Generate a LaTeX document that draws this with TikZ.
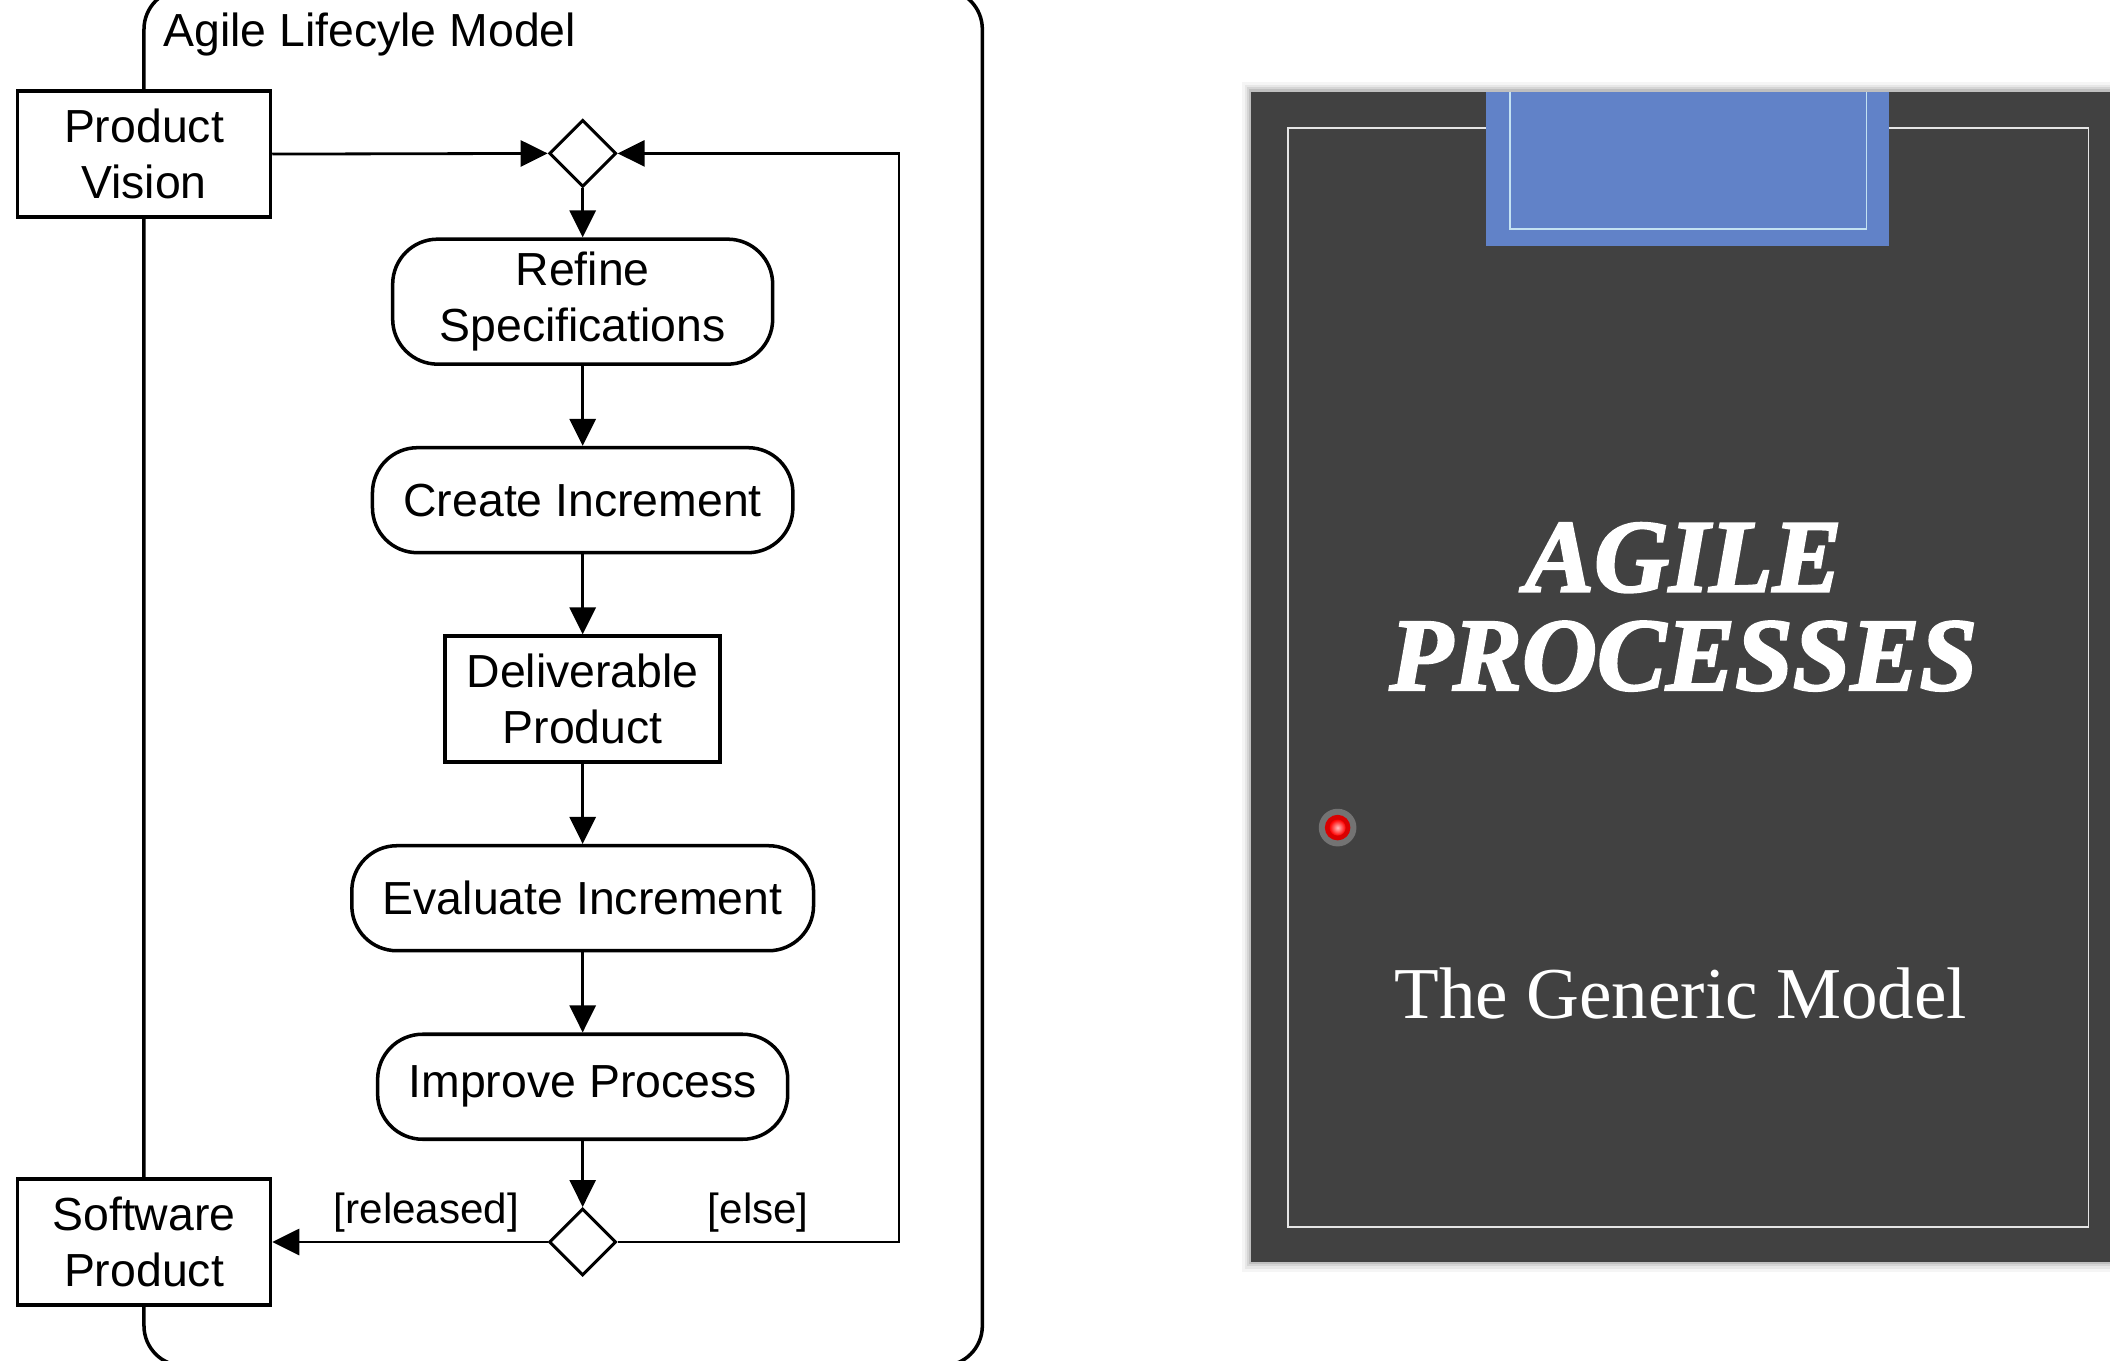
\documentclass[tikz,border=0pt]{standalone}
\usepackage{fontspec}
\setmainfont{Liberation Sans}
\newfontfamily\slideserif[BoldItalicFeatures={FakeBold=2.2}]{Liberation Serif}
\usepackage{tikz}
\usetikzlibrary{arrows.meta,positioning,shapes.geometric,calc}
\definecolor{slidegray}{HTML}{414141}
\definecolor{slideblue}{HTML}{6182C8}
\definecolor{paleblue}{HTML}{C4E2F2}

\begin{document}
\begin{tikzpicture}[
  x=0.13457mm, y=0.13457mm,
  arr/.style={-{Triangle[length=2.7mm, width=2.6mm]}, line width=0.8pt},
  txt/.style={font=\fontsize{13.2}{16}\selectfont, align=center},
  act/.style={txt, draw, line width=1pt, fill=white, rounded corners=4.5mm,
    minimum height=10.5mm, inner xsep=3.1mm},
  obj/.style={txt, draw, line width=1pt, fill=white, minimum height=12.6mm},
  decision/.style={draw, diamond, line width=0.85pt, fill=white, inner sep=0pt,
    minimum width=6.7mm, minimum height=6.7mm},
  guard/.style={font=\fontsize{12}{14}\selectfont, inner sep=2.5pt},
  node distance=8mm
]
\useasboundingbox (0,0) rectangle (1568,-1011);
\clip (0,0) rectangle (1568,-1011);

% ===== ACTIVITY FRAME =====
\draw[line width=1pt, rounded corners=4mm] (107,8) rectangle (730,-1015);
\node[txt, anchor=base west, inner sep=0pt] (frame_title) at (121,-34.5) {Agile Lifecyle Model};

% ===== NODES =====
\node[obj, minimum width=25.3mm] (vision) at (107,-114.5) {Product\\Vision};
\node[decision] (merge) at (433,-114) {};
\node[act, below=4.9mm of merge, minimum width=38mm, minimum height=12.5mm] (refine) {Refine\\Specifications};
\node[act, below=of refine] (create) {Create Increment};
\node[obj, below=of create, minimum width=27.5mm] (deliverable) {Deliverable\\Product};
\node[act, below=of deliverable] (evaluate) {Evaluate Increment};
\node[act, below=of evaluate] (improve) {Improve Process};
\node[decision, below=6.6mm of improve] (branch) {};
\node[obj, minimum width=25.3mm] (software) at (vision |- branch) {Software\\Product};
\coordinate (loop_r) at (668,-114);

% ===== FLOWS =====
\draw[arr] (vision.east) -- (merge.west);
\draw[arr] (merge) -- (refine);
\draw[arr] (refine) -- (create);
\draw[arr] (create) -- (deliverable);
\draw[arr] (deliverable) -- (evaluate);
\draw[arr] (evaluate) -- (improve);
\draw[arr] (improve) -- (branch);
\draw[arr] (branch.west) -- node[guard, above, pos=0.44] {[released]} (software.east);
\draw[arr] (branch.east) -| node[guard, above, pos=0.25] {[else]} (loop_r) -- (merge.east);

% ===== SLIDE =====
\foreach \s/\o in {7/0.04,5/0.06,3/0.08,1.5/0.1}
  \fill[black, opacity=\o] (930-\s,-68+\s) rectangle (1580,-938-\s);
\fill[slidegray] (930,-68) rectangle (1580,-938);
\draw[white!80!gray, line width=0.5pt] (957,-95) rectangle (1552,-912);
\fill[slideblue] (1104,-68) rectangle (1404,-183);
\draw[paleblue, line width=0.5pt] (1122,-68) |- (1387,-170) -- (1387,-68);
\node[text=white, align=center, font=\slideserif\bfseries\itshape\fontsize{29.5}{28}\selectfont]
  (slide_title) at (1251,-451) {AGILE\\PROCESSES};
\node[text=white, font=\slideserif\fontsize{20.8}{25}\selectfont]
  (slide_sub) at (1249,-738) {The Generic Model};

% laser pointer
\fill[gray!70, opacity=0.5] (994,-615) circle (14);
\fill[red!85!black] (994,-615) circle (9.5);
\shade[inner color=white!75!red, outer color=red] (994,-615) circle (6);

\end{tikzpicture}
\end{document}
